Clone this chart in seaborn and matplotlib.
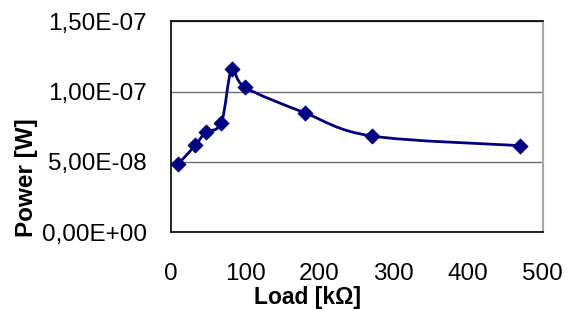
import matplotlib
matplotlib.use("Agg")
import matplotlib.pyplot as plt
import seaborn as sns
import numpy as np
import pandas as pd
from matplotlib.path import Path
from matplotlib.patches import PathPatch
from matplotlib.ticker import FuncFormatter

load_kohm = [10, 33, 47, 68, 82, 100, 180, 270, 470]
power_w = [4.86e-8, 6.18e-8, 7.11e-8, 7.79e-8, 1.159e-7, 1.03e-7, 8.50e-8, 6.85e-8, 6.16e-8]
x_ticks = [0, 100, 200, 300, 400, 500]
y_ticks = [0, 5e-8, 1e-7, 1.5e-7]
x_label = "Load [kΩ]"
y_label = "Power [W]"

sns.set_theme(style="white")
plt.rcParams["font.family"] = ["Liberation Sans", "DejaVu Sans"]
plt.rcParams["text.color"] = "black"

df = pd.DataFrame({"load": load_kohm, "power": power_w})
color = "#000080"

fig = plt.figure(figsize=(5.76, 3.09), dpi=100)
ax = fig.add_axes([0.2964, 0.2482, 0.6458, 0.6828])

# smoothed line (Catmull-Rom style Bezier through data points)
x = np.array(load_kohm, dtype=float)
y = np.array(power_w, dtype=float)
verts = [(x[0], y[0])]
codes = [Path.MOVETO]
n = len(x)
for i in range(n - 1):
    p0 = (x[i - 1], y[i - 1]) if i > 0 else (x[i], y[i])
    p1 = (x[i], y[i])
    p2 = (x[i + 1], y[i + 1])
    p3 = (x[i + 2], y[i + 2]) if i + 2 < n else (x[i + 1], y[i + 1])
    c1 = (p1[0] + (p2[0] - p0[0]) / 6, p1[1] + (p2[1] - p0[1]) / 6)
    c2 = (p2[0] - (p3[0] - p1[0]) / 6, p2[1] - (p3[1] - p1[1]) / 6)
    verts += [c1, c2, p2]
    codes += [Path.CURVE4] * 3
ax.add_patch(PathPatch(Path(verts, codes), fill=False, edgecolor=color, lw=2, zorder=3))

sns.scatterplot(data=df, x="load", y="power", marker="D", s=60, color=color,
                edgecolor=color, linewidth=0.5, ax=ax, zorder=4)

ax.set_xlim(0, 500)
ax.set_ylim(0, 1.5e-7)
ax.set_xticks(x_ticks)
ax.set_yticks(y_ticks)
ax.yaxis.set_major_formatter(FuncFormatter(lambda v, p: f"{v:.2E}".replace(".", ",")))
ax.tick_params(axis="both", which="major", labelsize=17.5, colors="#808080",
               labelcolor="black", length=6, width=1, direction="out")
ax.tick_params(axis="y", pad=11)
ax.tick_params(axis="x", pad=16)
ax.grid(axis="y", color="#707070", lw=1)
ax.set_axisbelow(True)

for side in ["left", "top", "bottom"]:
    ax.spines[side].set_color("black")
    ax.spines[side].set_linewidth(1.2)
ax.spines["right"].set_color("#a8a8a8")
ax.spines["right"].set_linewidth(1.5)

ax.set_xlabel("")
ax.set_ylabel("")
ax.text(0.368, -0.255, x_label, transform=ax.transAxes, ha="center", va="top",
        fontsize=16.5, fontweight="bold", color="black")
ax.text(-0.388, 0.26, y_label, transform=ax.transAxes, ha="center", va="center",
        rotation=90, fontsize=17.5, fontweight="bold", color="black")

fig.savefig("out.png", dpi=100)
